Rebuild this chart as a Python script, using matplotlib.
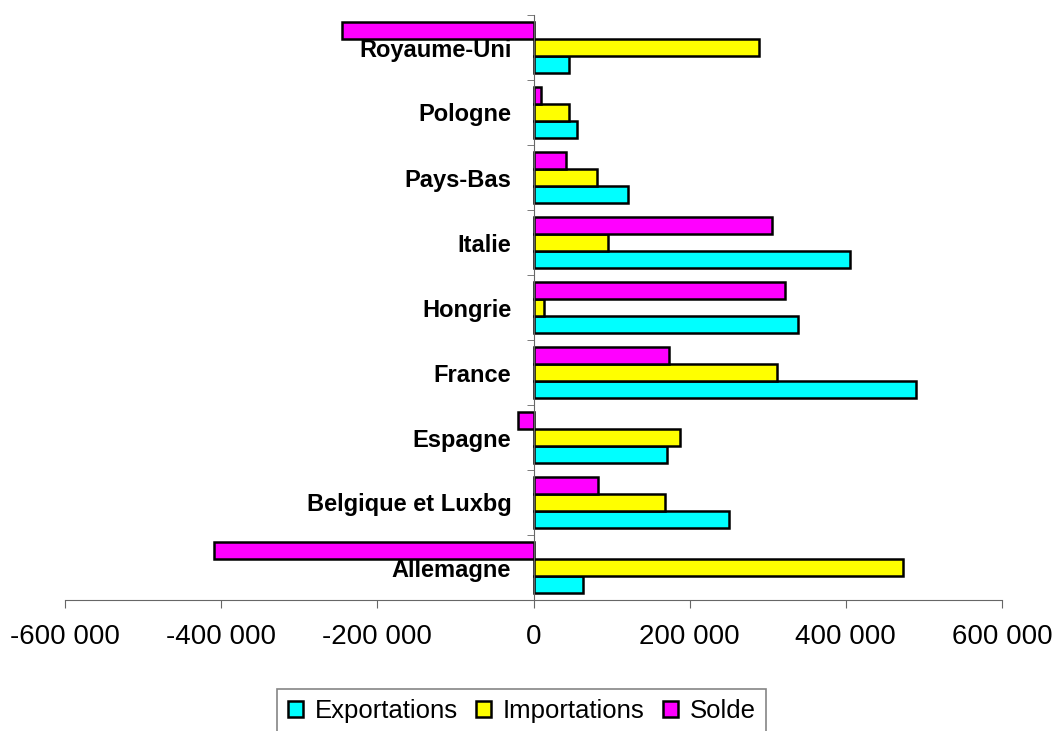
import matplotlib.pyplot as plt
import matplotlib.ticker as mticker
from matplotlib.patches import Patch
import numpy as np

plt.rcParams['font.family'] = ['Liberation Sans', 'DejaVu Sans']

# categories bottom -> top
pays = ['Allemagne', 'Belgique et Luxbg', 'Espagne', 'France', 'Hongrie',
        'Italie', 'Pays-Bas', 'Pologne', 'Royaume-Uni']
exportations = [64000, 251000, 171000, 490000, 339000, 405000, 121000, 56000, 45000]
importations = [473000, 168000, 187000, 312000, 13000, 96000, 81000, 45000, 289000]
solde = [-409000, 83000, -20000, 173000, 322000, 305000, 41000, 10000, -245000]

series_names = ['Exportations', 'Importations', 'Solde']
colors = ['#00FFFF', '#FFFF00', '#FF00FF']

fig = plt.figure(figsize=(10.56, 7.31), dpi=100)
ax = fig.add_axes([65 / 1056, 1 - 600 / 731, (1002 - 65) / 1056, (600 - 15) / 731])

y = np.arange(len(pays))
h = 0.26
for i, (vals, col) in enumerate(zip([exportations, importations, solde], colors)):
    ax.barh(y + (i - 1) * h, vals, height=h, color=col, edgecolor='black', linewidth=1.8, zorder=2)
ax.set_axisbelow(False)  # category labels drawn over the bars

ax.set_xlim(-600000, 600000)
ax.set_ylim(-0.5, len(pays) - 0.5)

# axes styling like the spreadsheet chart
ax.spines['top'].set_visible(False)
ax.spines['right'].set_visible(False)
ax.spines['left'].set_position(('data', 0))
ax.spines['left'].set_color('#666666')
ax.spines['bottom'].set_color('#666666')

ax.set_yticks(y)
ax.set_yticklabels(pays, fontsize=17, fontweight='bold')
ax.set_yticks(np.arange(-0.5, len(pays)), minor=True)
ax.tick_params(axis='y', which='major', length=0, pad=16)
ax.tick_params(axis='y', which='minor', length=5, color='#666666', direction='out')

ax.set_xticks(np.arange(-600000, 600001, 200000))
ax.xaxis.set_major_formatter(mticker.FuncFormatter(lambda v, p: f'{int(v):,}'.replace(',', ' ')))
ax.tick_params(axis='x', length=6, color='#666666', labelsize=20, pad=11)

handles = [Patch(facecolor=c, edgecolor='black', linewidth=1.8) for c in colors]
leg = fig.legend(handles, series_names, loc='upper center', bbox_to_anchor=(0.494, 1 - 689 / 731),
                 ncol=3, fontsize=18.5, frameon=True, fancybox=False, borderaxespad=0,
                 handlelength=0.6, handleheight=0.6, handletextpad=0.45, columnspacing=0.7,
                 borderpad=0.4)
leg.get_frame().set_edgecolor('#666666')
leg.get_frame().set_linewidth(1.2)

fig.savefig('out.png', dpi=100)
